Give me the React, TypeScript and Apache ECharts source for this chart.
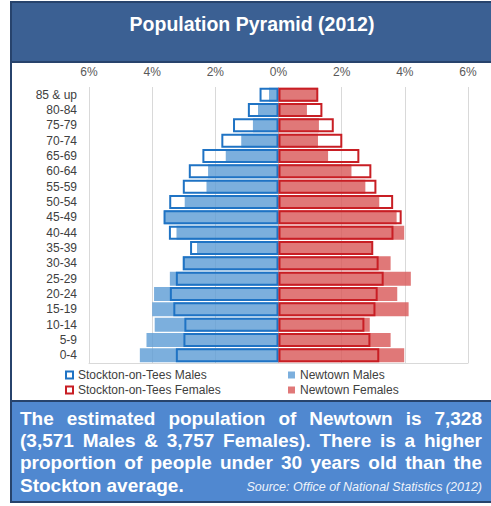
import React, { useEffect, useRef } from "react";
import * as echarts from "echarts";

const ageGroups = ["85 & up", "80-84", "75-79", "70-74", "65-69", "60-64", "55-59", "50-54", "45-49", "40-44", "35-39", "30-34", "25-29", "20-24", "15-19", "10-14", "5-9", "0-4"];
const stocktonMales = [0.6, 0.97, 1.44, 1.81, 2.41, 2.84, 3.03, 3.46, 3.64, 3.47, 2.8, 3.03, 3.25, 3.44, 3.33, 2.98, 3.01, 3.25];
const newtownMales = [0.3, 0.65, 0.81, 1.18, 1.67, 2.23, 2.28, 2.97, 3.62, 3.23, 2.58, 3.03, 3.44, 3.94, 4.0, 3.92, 4.18, 4.39];
const stocktonFemales = [1.26, 1.39, 1.75, 2.02, 2.56, 2.94, 3.1, 3.63, 3.9, 3.64, 3.0, 3.17, 3.33, 3.14, 3.07, 2.72, 2.91, 3.19];
const newtownFemales = [1.25, 0.9, 1.28, 1.25, 1.57, 2.31, 2.75, 3.19, 3.74, 3.98, 2.99, 3.55, 4.19, 3.76, 4.12, 2.89, 3.55, 3.98];
const xTicks = [-6, -4, -2, 0, 2, 4, 6];

const titleText = "Population Pyramid (2012)";
const justifiedLines = [
  "The estimated population of Newtown is 7,328",
  "(3,571 Males & 3,757 Females). There is a higher",
  "proportion of people under 30 years old than the",
];
const lastLine = "Stockton average.";
const sourceText = "Source: Office of National Statistics (2012)";

const FONT = '"Liberation Sans", Arial, sans-serif';

function measure(text: string, font: string): number {
  const c = document.createElement("canvas");
  const ctx = c.getContext("2d");
  if (!ctx) return text.length * 10;
  ctx.font = font;
  return ctx.measureText(text).width;
}

export default function App() {
  const ref = useRef<HTMLDivElement>(null);
  useEffect(() => {
    if (!ref.current) return;
    const chart = echarts.init(ref.current, null, { renderer: "svg" });

    const bodyFont = 'bold 19px "Liberation Sans", Arial, sans-serif';
    const left = 20;
    const right = 482;
    const lineYs = [418, 440, 462.5];
    const textEls: any[] = [];
    justifiedLines.forEach((line, li) => {
      const words = line.split(" ");
      const widths = words.map((w) => measure(w, bodyFont));
      const total = widths.reduce((a, b) => a + b, 0);
      const gap = (right - left - total) / (words.length - 1);
      let x = left;
      words.forEach((w, i) => {
        textEls.push({
          type: "text",
          x,
          y: lineYs[li],
          z: 10,
          style: { text: w, fill: "#ffffff", font: bodyFont, textAlign: "left", textVerticalAlign: "middle" },
        });
        x += widths[i] + gap;
      });
    });
    textEls.push({
      type: "text",
      x: left,
      y: 485,
      z: 10,
      style: { text: lastLine, fill: "#ffffff", font: bodyFont, textAlign: "left", textVerticalAlign: "middle" },
    });
    textEls.push({
      type: "text",
      x: right,
      y: 487,
      z: 10,
      style: {
        text: sourceText,
        fill: "#eef3fb",
        font: 'italic 12.5px "Liberation Sans", Arial, sans-serif',
        textAlign: "right",
        textVerticalAlign: "middle",
      },
    });

    const legendText = { color: "#404040", fontFamily: FONT, fontSize: 12, lineHeight: 12 };

    const option: any = {
      animation: false,
      backgroundColor: "#ffffff",
      graphic: [
        {
          type: "rect",
          shape: { x: 11, y: 2, width: 484, height: 60 },
          style: { fill: "#3b6093", stroke: "#27436c", lineWidth: 2 },
          z: 5,
        },
        {
          type: "text",
          x: 252,
          y: 24,
          z: 10,
          style: {
            text: titleText,
            fill: "#ffffff",
            font: 'bold 19.5px "Liberation Sans", Arial, sans-serif',
            textAlign: "center",
            textVerticalAlign: "middle",
          },
        },
        {
          type: "line",
          shape: { x1: 11, y1: 62, x2: 11, y2: 401 },
          style: { stroke: "#27436c", lineWidth: 2 },
          z: 5,
        },
        {
          type: "rect",
          shape: { x: 11, y: 401, width: 484, height: 101 },
          style: { fill: "#5088d0", stroke: "#27436c", lineWidth: 2 },
          z: 5,
        },
        ...textEls,
      ],
      grid: { left: 89, right: 23, top: 87, bottom: 143, containLabel: false },
      xAxis: [
        {
          type: "value",
          position: "top",
          min: -6,
          max: 6,
          interval: 2,
          axisLine: { show: false },
          axisTick: { show: false },
          axisLabel: {
            color: "#595959",
            fontFamily: FONT,
            fontSize: 12,
            margin: 9,
            formatter: (v: number) => (xTicks.includes(v) ? Math.abs(v) + "%" : ""),
          },
          splitLine: { show: true, lineStyle: { color: "#d9d9d9", width: 1 } },
        },
        {
          type: "value",
          position: "bottom",
          min: -6,
          max: 6,
          interval: 2,
          axisLine: { show: true, onZero: false, lineStyle: { color: "#d9d9d9", width: 1 } },
          axisTick: { show: false },
          axisLabel: { show: false },
          splitLine: { show: false },
        },
      ],
      yAxis: {
        type: "category",
        inverse: true,
        data: ageGroups,
        axisLine: { show: false, onZero: false },
        axisTick: { show: false },
        axisLabel: { color: "#404040", fontFamily: FONT, fontSize: 12, margin: 12, interval: 0 },
      },
      legend: [
        {
          left: 65,
          top: 369,
          padding: 0,
          orient: "vertical",
          itemWidth: 7,
          itemHeight: 7,
          itemGap: 3,
          icon: "rect",
          data: ["Stockton-on-Tees Males", "Stockton-on-Tees Females"],
          textStyle: legendText,
        },
        {
          left: 288,
          top: 369,
          padding: 0,
          orient: "vertical",
          itemWidth: 7,
          itemHeight: 7,
          itemGap: 3,
          icon: "rect",
          data: ["Newtown Males", "Newtown Females"],
          textStyle: legendText,
        },
      ],
      series: [
        {
          name: "Newtown Males",
          type: "bar",
          data: newtownMales.map((v) => -v),
          barCategoryGap: "9%",
          barGap: "-100%",
          itemStyle: { color: "rgba(91,155,213,0.8)" },
          z: 2,
        },
        {
          name: "Newtown Females",
          type: "bar",
          data: newtownFemales,
          barCategoryGap: "9%",
          barGap: "-100%",
          itemStyle: { color: "rgba(216,86,86,0.8)" },
          z: 2,
        },
        {
          name: "Stockton-on-Tees Males",
          type: "bar",
          data: stocktonMales.map((v) => -v),
          barCategoryGap: "9%",
          barGap: "-100%",
          itemStyle: { color: "rgba(255,255,255,0)", borderColor: "#1f73c4", borderWidth: 2 },
          z: 3,
        },
        {
          name: "Stockton-on-Tees Females",
          type: "bar",
          data: stocktonFemales,
          barCategoryGap: "9%",
          barGap: "-100%",
          itemStyle: { color: "rgba(255,255,255,0)", borderColor: "#c81e24", borderWidth: 2 },
          z: 3,
        },
      ],
    };
    chart.setOption(option);
    return () => chart.dispose();
  }, []);
  return <div ref={ref} style={{ position: "absolute", left: 0, top: 0, width: 491, height: 506 }} />;
}
